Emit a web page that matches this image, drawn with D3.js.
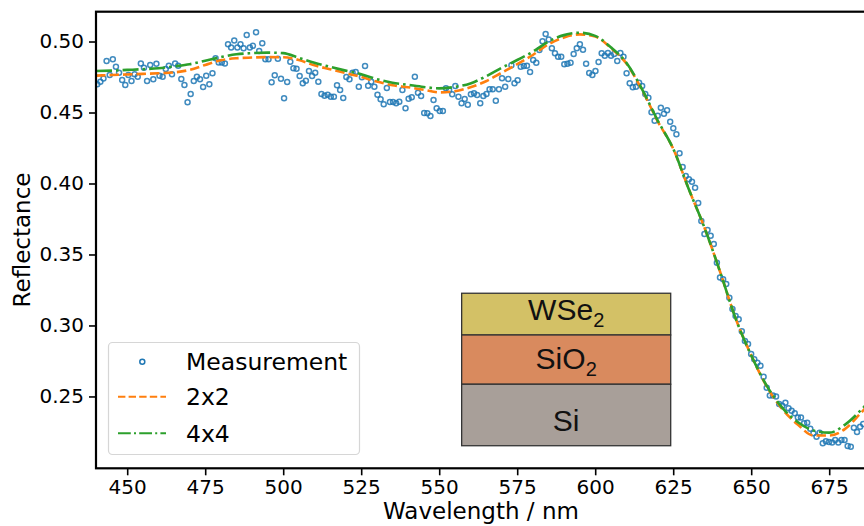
<!DOCTYPE html>
<html>
<head>
<meta charset="utf-8">
<script src="https://cdn.jsdelivr.net/npm/d3@7"></script>
<style>
	body { margin: 0; background: #fff; }
	svg { display: block; font-family: "DejaVu Sans", sans-serif; }
</style>
</head>
<body>
<svg id="chart" width="864" height="526"></svg>
<script>
// measured reflectance, one sample per nm starting at 440 nm
const measStart = 440.4;
const measStep = 0.998;
const measured = [
	0.4699, 0.4717, 0.4740, 0.4863, 0.4764, 0.4875, 0.4823, 0.4780, 0.4729, 0.4694,
	0.4764, 0.4722, 0.4769, 0.4752, 0.4846, 0.4816, 0.4722, 0.4834, 0.4734, 0.4844,
	0.4759, 0.4752, 0.4806, 0.4830, 0.4769, 0.4846, 0.4830, 0.4736, 0.4694, 0.4572,
	0.4630, 0.4722, 0.4752, 0.4734, 0.4680, 0.4759, 0.4699, 0.4776, 0.4882, 0.4853,
	0.4853, 0.4846, 0.4980, 0.4957, 0.5008, 0.4957, 0.4980, 0.4952, 0.5046, 0.4957,
	0.4970, 0.5065,
	0.4933, 0.4987, 0.4875, 0.4875, 0.4713, 0.4762, 0.4879, 0.4738, 0.4600, 0.4715,
	0.4858, 0.4811, 0.4808, 0.4757, 0.4706, 0.4724, 0.4792, 0.4757, 0.4780, 0.4717,
	0.4630, 0.4618, 0.4625, 0.4611, 0.4611, 0.4692, 0.4658, 0.4602, 0.4750, 0.4734,
	0.4780, 0.4785, 0.4682, 0.4748, 0.4827, 0.4689, 0.4717, 0.4682, 0.4625, 0.4593,
	0.4558, 0.4673, 0.4574, 0.4574, 0.4565, 0.4576, 0.4658, 0.4530, 0.4597, 0.4607,
	0.4752, 0.4639, 0.4616, 0.4496, 0.4494, 0.4475, 0.4588, 0.4530, 0.4511, 0.4511,
	0.4670, 0.4658, 0.4628, 0.4687, 0.4611, 0.4565, 0.4595, 0.4555, 0.4628, 0.4635,
	0.4623, 0.4565, 0.4616, 0.4630, 0.4663, 0.4663, 0.4583, 0.4663, 0.4741, 0.4682,
	0.4736, 0.4832, 0.4706, 0.4727, 0.4823, 0.4827, 0.4830, 0.4785, 0.4870, 0.4851,
	0.4940, 0.5001, 0.5053, 0.5015, 0.4952, 0.4917, 0.4893, 0.4893, 0.4839, 0.4844,
	0.4851, 0.4912, 0.4952, 0.4980, 0.4942, 0.4844, 0.4778, 0.4764, 0.4792, 0.4856,
	0.4917, 0.4900, 0.4919, 0.4900, 0.4912, 0.4863, 0.4919, 0.4893, 0.4776, 0.4706,
	0.4677, 0.4682, 0.4710, 0.4687, 0.4630, 0.4604, 0.4501, 0.4442, 0.4477, 0.4534,
	0.4492, 0.4515, 0.4435, 0.4389, 0.4346, 0.4213, 0.4116, 0.4053, 0.4030, 0.4013,
	0.3970, 0.3863, 0.3736, 0.3644, 0.3673, 0.3632, 0.3574, 0.3442, 0.3337, 0.3325,
	0.3292, 0.3196, 0.3116, 0.3067, 0.3044, 0.2959, 0.2891, 0.2870, 0.2799, 0.2762,
	0.2738, 0.2717, 0.2639, 0.2562, 0.2506, 0.2506, 0.2499, 0.2447, 0.2435, 0.2456,
	0.2417, 0.2400, 0.2382, 0.2351, 0.2351, 0.2311, 0.2315, 0.2273, 0.2241, 0.2217,
	0.2245, 0.2170, 0.2184, 0.2180, 0.2175, 0.2194, 0.2175, 0.2194, 0.2194, 0.2151,
	0.2146, 0.2280, 0.2250, 0.2287, 0.2306
];

// fitted model curves
const fitWavelengths = [
	440, 445, 450, 455, 460, 465, 470, 475, 480, 485, 490, 495, 500, 505, 510, 515, 520,
	525, 530, 535, 540, 545, 550, 555, 560, 565, 570, 575, 580, 585, 590, 595, 600, 605,
	610, 615, 620, 625, 630, 635, 640, 645, 650, 655, 660, 665, 670, 675, 680, 685, 690
];
const fit2x2 = [
	0.4760, 0.4764, 0.4768, 0.4772, 0.4776, 0.4782, 0.4800, 0.4835, 0.4868, 0.4882, 0.4887,
	0.4890, 0.4889, 0.4870, 0.4832, 0.4805, 0.4778, 0.4750, 0.4718, 0.4692, 0.4678, 0.4660,
	0.4642, 0.4650, 0.4678, 0.4720, 0.4780, 0.4840, 0.4905, 0.4980, 0.5028, 0.5050, 0.5035,
	0.4955, 0.4845, 0.4660, 0.4440, 0.4245, 0.3960, 0.3690, 0.3380, 0.3050, 0.2790, 0.2570,
	0.2410, 0.2300, 0.2225, 0.2225, 0.2270, 0.2380, 0.2500
];
const fit4x4 = [
	0.4792, 0.4795, 0.4800, 0.4805, 0.4812, 0.4825, 0.4840, 0.4865, 0.4890, 0.4910, 0.4918,
	0.4922, 0.4918, 0.4885, 0.4850, 0.4822, 0.4795, 0.4770, 0.4735, 0.4710, 0.4695, 0.4680,
	0.4670, 0.4680, 0.4705, 0.4755, 0.4815, 0.4870, 0.4928, 0.5000, 0.5045, 0.5062, 0.5040,
	0.4960, 0.4850, 0.4665, 0.4445, 0.4245, 0.3960, 0.3690, 0.3380, 0.3050, 0.2790, 0.2575,
	0.2420, 0.2318, 0.2260, 0.2245, 0.2300, 0.2400, 0.2520
];

const xTicks = [450, 475, 500, 525, 550, 575, 600, 625, 650, 675];
const yTicks = [0.25, 0.30, 0.35, 0.40, 0.45, 0.50];

const legendLabels = ["Measurement", "2x2", "4x4"];

// layer stack drawn as an inset (bottom/top in data units)
const layerNames = ["WSe", "SiO", "Si"];
const layerSubs = ["2", "2", ""];
const layerColors = ["#d3c166", "#d98a5e", "#a89f99"];
const layerTops = [0.3227, 0.2933, 0.2586];
const layerBottoms = [0.2933, 0.2586, 0.2153];
const insetX = [557.2, 624.2];

const blue = "#1f77b4", orange = "#ff7f0e", green = "#2ca02c";

const svg = d3.select("#chart");
const plot = {left: 96, right: 866, top: 11.7, bottom: 468.3};

const x = d3.scaleLinear()
	.domain([440, 440 + (plot.right - plot.left) / 3.12])
	.range([plot.left, plot.right]);
const y = d3.scaleLinear()
	.domain([0.1994, 0.521])
	.range([plot.bottom, plot.top]);

svg.append("defs").append("clipPath")
	.attr("id", "plot-clip")
	.append("rect")
	.attr("x", plot.left)
	.attr("y", plot.top)
	.attr("width", plot.right - plot.left)
	.attr("height", plot.bottom - plot.top);

const dataG = svg.append("g").attr("clip-path", "url(#plot-clip)");

// measurement points
const measPoints = measured.map((r, i) => ({wl: measStart + i * measStep, r: r}));
dataG.selectAll(".meas")
	.data(measPoints)
	.enter()
	.append("circle")
	.classed("meas", true)
	.attr("cx", d => x(d.wl))
	.attr("cy", d => y(d.r))
	.attr("r", 2.5)
	.style("fill", "none")
	.style("stroke", blue)
	.style("stroke-opacity", 0.85)
	.style("stroke-width", 1.5);

const line = d3.line()
	.x(d => x(d[0]))
	.y(d => y(d[1]))
	.curve(d3.curveMonotoneX);

dataG.append("path")
	.datum(fitWavelengths.map((w, i) => [w, fit2x2[i]]))
	.attr("d", line)
	.style("fill", "none")
	.style("stroke", orange)
	.style("stroke-width", 2.6)
	.style("stroke-dasharray", "9.5,4");

dataG.append("path")
	.datum(fitWavelengths.map((w, i) => [w, fit4x4[i]]))
	.attr("d", line)
	.style("fill", "none")
	.style("stroke", green)
	.style("stroke-width", 2.6)
	.style("stroke-dasharray", "16,4,2.6,4");

// axes
const xAxis = d3.axisBottom(x).tickValues(xTicks).tickSize(7).tickPadding(5).tickFormat(d3.format("d"));
const yAxis = d3.axisLeft(y).tickValues(yTicks).tickSize(7).tickPadding(5).tickFormat(d3.format(".2f"));

const xg = svg.append("g")
	.attr("transform", "translate(0," + plot.bottom + ")")
	.call(xAxis);
const yg = svg.append("g")
	.attr("transform", "translate(" + plot.left + ",0)")
	.call(yAxis);
[xg, yg].forEach(g => {
	g.select(".domain").remove();
	g.selectAll(".tick line").style("stroke", "#000").style("stroke-width", 1.6);
	g.selectAll(".tick text")
		.style("font-family", "DejaVu Sans")
		.style("font-size", "20px")
		.style("fill", "#000");
});

// spines
svg.append("rect")
	.attr("x", plot.left)
	.attr("y", plot.top)
	.attr("width", plot.right - plot.left)
	.attr("height", plot.bottom - plot.top)
	.style("fill", "none")
	.style("stroke", "#000")
	.style("stroke-width", 2.2);

svg.append("text")
	.attr("x", (plot.left + plot.right) / 2)
	.attr("y", 519)
	.attr("text-anchor", "middle")
	.style("font-size", "23px")
	.text("Wavelength / nm");

svg.append("text")
	.attr("transform", "translate(30," + ((plot.top + plot.bottom) / 2) + ") rotate(-90)")
	.attr("text-anchor", "middle")
	.style("font-size", "23px")
	.text("Reflectance");

// inset: layer stack
const inset = svg.append("g");
layerNames.forEach((name, i) => {
	const x0 = x(insetX[0]), x1 = x(insetX[1]);
	const yTop = y(layerTops[i]), yBot = y(layerBottoms[i]);
	inset.append("rect")
		.attr("x", x0)
		.attr("y", yTop)
		.attr("width", x1 - x0)
		.attr("height", yBot - yTop)
		.style("fill", layerColors[i])
		.style("stroke", "#333")
		.style("stroke-width", 1.3);
	const t = inset.append("text")
		.attr("x", (x0 + x1) / 2)
		.attr("y", yBot - 15)
		.attr("text-anchor", "middle")
		.style("font-family", "Liberation Sans, Arial, sans-serif")
		.style("font-size", "30px")
		.style("fill", "#111");
	t.append("tspan").text(name);
	if (layerSubs[i]) {
		t.append("tspan")
			.attr("dy", 7)
			.style("font-size", "20px")
			.text(layerSubs[i]);
	}
});

// legend
const legend = svg.append("g");
legend.append("rect")
	.attr("x", 108.5)
	.attr("y", 342.5)
	.attr("width", 251)
	.attr("height", 112)
	.attr("rx", 4)
	.style("fill", "#fff")
	.style("fill-opacity", 0.8)
	.style("stroke", "#d6d6d6")
	.style("stroke-width", 1.2);

const rowY = [361.7, 396.7, 433.3];
legend.append("circle")
	.attr("cx", 142.3)
	.attr("cy", rowY[0])
	.attr("r", 2.5)
	.style("fill", "none")
	.style("stroke", blue)
	.style("stroke-width", 1.5);
legend.append("line")
	.attr("x1", 118).attr("x2", 166)
	.attr("y1", rowY[1]).attr("y2", rowY[1])
	.style("stroke", orange)
	.style("stroke-width", 2)
	.style("stroke-dasharray", "7.4,3.2");
legend.append("line")
	.attr("x1", 118).attr("x2", 166)
	.attr("y1", rowY[2]).attr("y2", rowY[2])
	.style("stroke", green)
	.style("stroke-width", 2)
	.style("stroke-dasharray", "12.8,3.2,2,3.2");
legend.selectAll(".leg-label")
	.data(legendLabels)
	.enter()
	.append("text")
	.classed("leg-label", true)
	.attr("x", 186)
	.attr("y", (d, i) => rowY[i] + 8.5)
	.style("font-size", "23.5px")
	.text(d => d);
</script>
</body>
</html>
